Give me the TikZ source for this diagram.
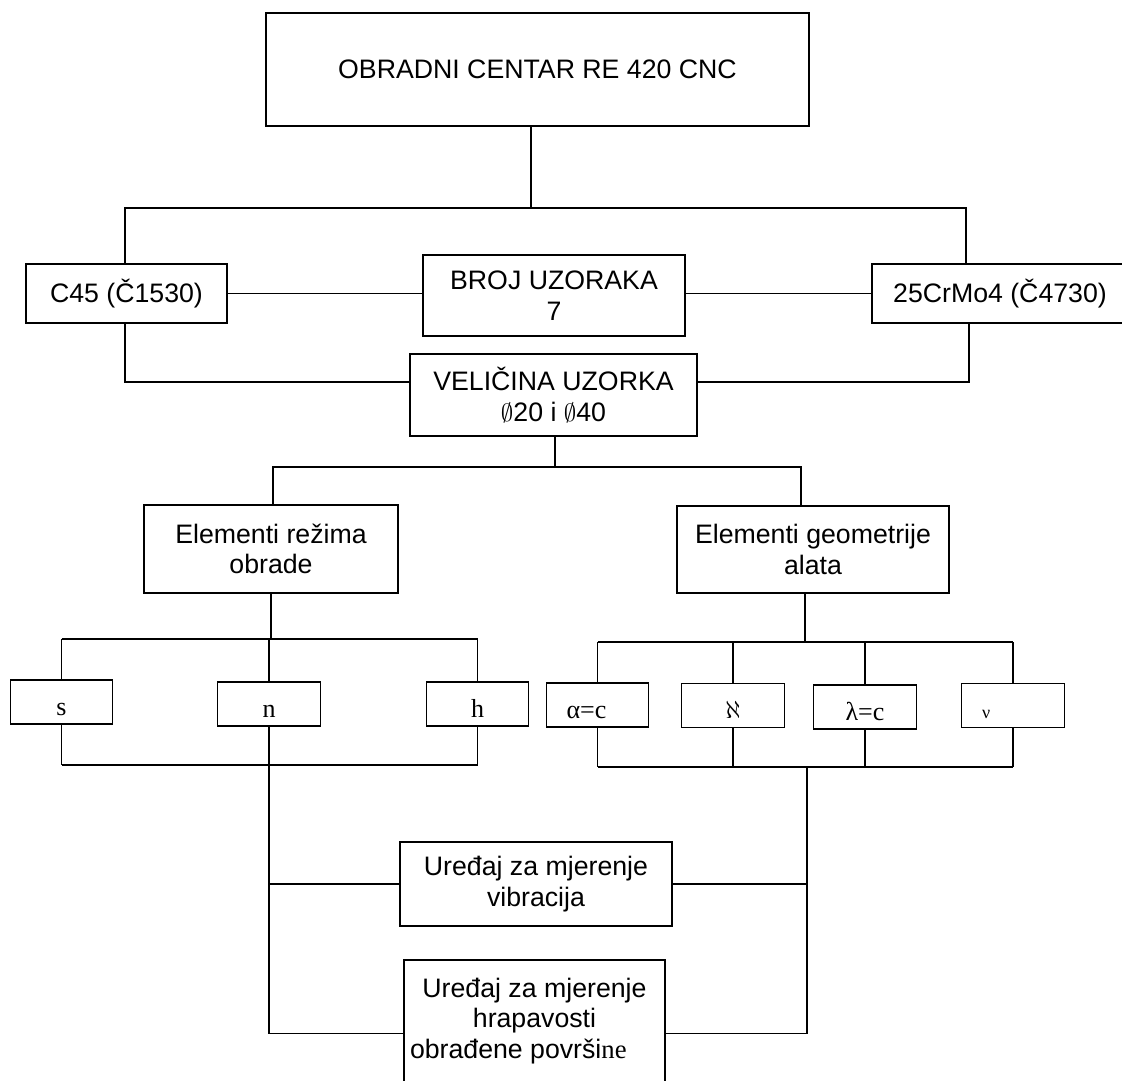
\documentclass[tikz,border=0pt]{standalone}
\usepackage{fontspec}
\setmainfont{Liberation Sans}
\newfontfamily\romfont{Liberation Serif}

\tikzset{
  box/.style={draw, inner sep=0pt, align=center, font=\fontsize{26.7}{30.5}\selectfont},
  leaf/.style={draw, inner sep=0pt, minimum width=102.5pt, minimum height=44pt, text height=30pt, text depth=4pt,
    font={\romfont\fontsize{26}{30}\selectfont}},
}

\begin{document}
\begin{tikzpicture}[x=1pt, y=-1pt, line width=1.4pt]
	\useasboundingbox (0,0) rectangle (1122,1080);
	\clip (0,0) rectangle (1122,1080);

	% upper part
	\node[box, minimum width=543pt, minimum height=113pt] (top) at (537.5,69.5) {OBRADNI CENTAR RE 420 CNC};
	\node[box, minimum width=201pt, minimum height=59pt] (c45) at (126.5,293.5) {C45 (Č1530)};
	\node[box, minimum width=262pt, minimum height=81pt] (broj) at (554,295.5) {BROJ UZORAKA\\7};
	\node[box, minimum width=256pt, minimum height=59pt] (crmo) at (1000,293.5) {25CrMo4 (Č4730)};
	\node[box, minimum width=287pt, minimum height=82pt] (vel) at (553.5,395) {VELIČINA UZORKA\\$\emptyset$20 i $\emptyset$40};

	\coordinate (jtop) at (531,208);
	\coordinate (jl1) at (125,208);
	\coordinate (jr1) at (966,208);
	\coordinate (jl2) at (125,382);
	\coordinate (jr2) at (969,382);

	\draw (top.south -| jtop) -- (jtop);
	\draw (jl1 |- c45.north) -- (jl1) -- (jr1) -- (jr1 |- crmo.north);
	\draw (c45.east) -- (c45.east -| broj.west);
	\draw (crmo.west) -- (crmo.west -| broj.east);
	\draw (jl2 |- c45.south) -- (jl2) -- (jl2 -| vel.west);
	\draw (jr2 |- crmo.south) -- (jr2) -- (jr2 -| vel.east);

	% two groups of elements
	\node[box, minimum width=254pt, minimum height=88pt] (rez) at (271,549) {Elementi režima\\obrade};
	\node[box, minimum width=272pt, minimum height=87pt] (geo) at (813,549.5) {Elementi geometrije\\alata};

	\coordinate (jv) at (555,467);
	\coordinate (jrez) at (273,467);
	\coordinate (jgeo) at (801,467);
	\draw (jv |- vel.south) -- (jv);
	\draw (jrez |- rez.north) -- (jrez) -- (jgeo) -- (jgeo |- geo.north);

	\node[leaf] (s) at (61.5,702) {s};
	\node[leaf] (n) at (269,704) {n};
	\node[leaf] (h) at (477.5,704) {h};
	\node[leaf] (alpha) at (597.5,705) {\makebox[102pt][l]{\hspace{20pt}α=c}};
	\node[leaf] (aleph) at (733,705.5) {$\aleph$};
	\node[leaf] (lambda) at (865,707) {λ=c};
	\node[leaf] (nu) at (1013,705.5) {\makebox[102pt][l]{\hspace{20pt}\fontsize{18}{18}\selectfont ν}};

	\coordinate (jrb) at (271,639);
	\coordinate (jgb) at (805,642);
	\draw (rez.south -| jrb) -- (jrb);
	\draw (s.north |- jrb) -- (h.north |- jrb);
	\foreach \v in {s,n,h}
		\draw (\v.north) -- (\v.north |- jrb);
	\draw (geo.south -| jgb) -- (jgb);
	\draw (alpha.north |- jgb) -- (nu.north |- jgb);
	\foreach \v in {alpha,aleph,lambda,nu}
		\draw (\v.north) -- (\v.north |- jgb);

	% measuring devices
	\node[box, minimum width=272pt, minimum height=84pt] (vib) at (536,884) {Uređaj za mjerenje\\vibracija};
	\node[box, minimum width=261pt, minimum height=147pt] (hrap) at (534.5,1033.5)
		{Uređaj za mjerenje\\hrapavosti\\\makebox[249pt][l]{obrađene površi{\romfont ne}}\\\mbox{}};

	\coordinate (jlb) at (271,765);
	\coordinate (jgl) at (807,767);
	\draw (s.south |- jlb) -- (h.south |- jlb);
	\foreach \v in {s,h}
		\draw (\v.south) -- (\v.south |- jlb);
	\draw (n.south) -- (n.south |- hrap.west) -- (hrap.west);
	\draw (n.south |- vib.west) -- (vib.west);
	\draw (alpha.south |- jgl) -- (nu.south |- jgl);
	\foreach \v in {alpha,aleph,lambda,nu}
		\draw (\v.south) -- (\v.south |- jgl);
	\draw (jgl) -- (jgl |- hrap.east) -- (hrap.east);
	\draw (vib.east) -- (vib.east -| jgl);
\end{tikzpicture}
\end{document}
